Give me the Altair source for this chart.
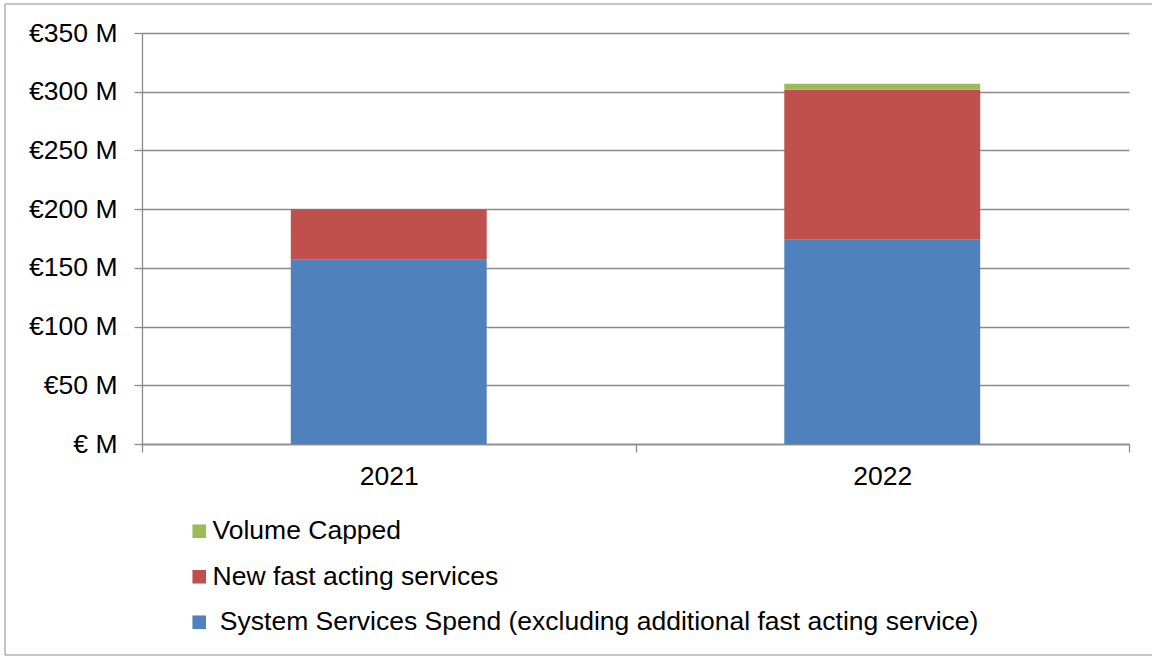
import altair as alt
import pandas as pd

years = ["2021", "2022"]
series_names = [
    "\u200b\u00a0System Services Spend (excluding additional fast acting service)",
    "New fast acting services",
    "Volume Capped",
]
system_spend = [157.0, 174.0]
new_fast = [43.0, 127.7]
volume_capped = [0.0, 5.1]
series_colors = ["#4F81BD", "#C0504D", "#9BBB59"]
y_ticks = [0, 50, 100, 150, 200, 250, 300, 350]

rows = []
for i, yr in enumerate(years):
    for k, vals in enumerate([system_spend, new_fast, volume_capped]):
        rows.append({"year": yr, "series": series_names[k], "value": vals[i], "ord": k})
df = pd.DataFrame(rows)

legend_domain = [series_names[2], series_names[1], series_names[0]]
legend_range = [series_colors[2], series_colors[1], series_colors[0]]

FONT = "Liberation Sans"
GRID = "#8a8a8a"
FS = 26.5

bars = alt.Chart(df).mark_bar(strokeWidth=0, width=alt.RelativeBandSize(0.397)).encode(
    x=alt.X(
        "year:N",
        title=None,
        scale=alt.Scale(paddingInner=0, paddingOuter=0),
        axis=alt.Axis(
            labelAngle=0,
            tickBand="extent",
            tickSize=8,
            tickColor=GRID,
            tickWidth=1.3,
            domainColor=GRID,
            domainWidth=1.3,
            labelPadding=11,
            labelFontSize=FS,
            labelFont=FONT,
            labelColor="black",
            grid=False,
        ),
    ),
    y=alt.Y(
        "value:Q",
        title=None,
        stack="zero",
        scale=alt.Scale(domain=[0, 350], nice=False),
        axis=alt.Axis(
            values=y_ticks,
            labelExpr="datum.value == 0 ? '€ M' : '€' + datum.value + ' M'",
            tickSize=8,
            tickColor=GRID,
            tickWidth=1.3,
            domainColor=GRID,
            domainWidth=1.3,
            gridColor=GRID,
            gridWidth=1.3,
            labelPadding=17,
            labelFontSize=FS,
            labelFont=FONT,
            labelColor="black",
        ),
    ),
    color=alt.Color(
        "series:N",
        scale=alt.Scale(domain=legend_domain, range=legend_range),
        legend=alt.Legend(
            title=None,
            orient="none",
            legendX=44,
            legendY=485,
            padding=0,
            symbolType="square",
            symbolSize=185,
            symbolStrokeWidth=0,
            symbolOpacity=1,
            labelFontSize=FS,
            labelFont=FONT,
            labelColor="black",
            labelOffset=0,
            labelLimit=2000,
            rowPadding=18.5,
        ),
    ),
    order=alt.Order("ord:Q", sort="ascending"),
)

border = alt.Chart(alt.Data(values=[{"a": 1}])).mark_rect(
    fill=None, stroke="#8c8c8c", strokeWidth=1
).encode(
    x=alt.value(-137),
    x2=alt.value(1015),
    y=alt.value(-29),
    y2=alt.value(622),
)

chart = alt.layer(border, bars).properties(
    width=987,
    height=411,
    padding={"left": 142, "top": 33, "right": 23, "bottom": 212},
    autosize=alt.AutoSizeParams(type="none"),
    background="white",
).configure_view(stroke=None)

chart.save("out.html", embed_options={"renderer": "svg", "actions": False})
